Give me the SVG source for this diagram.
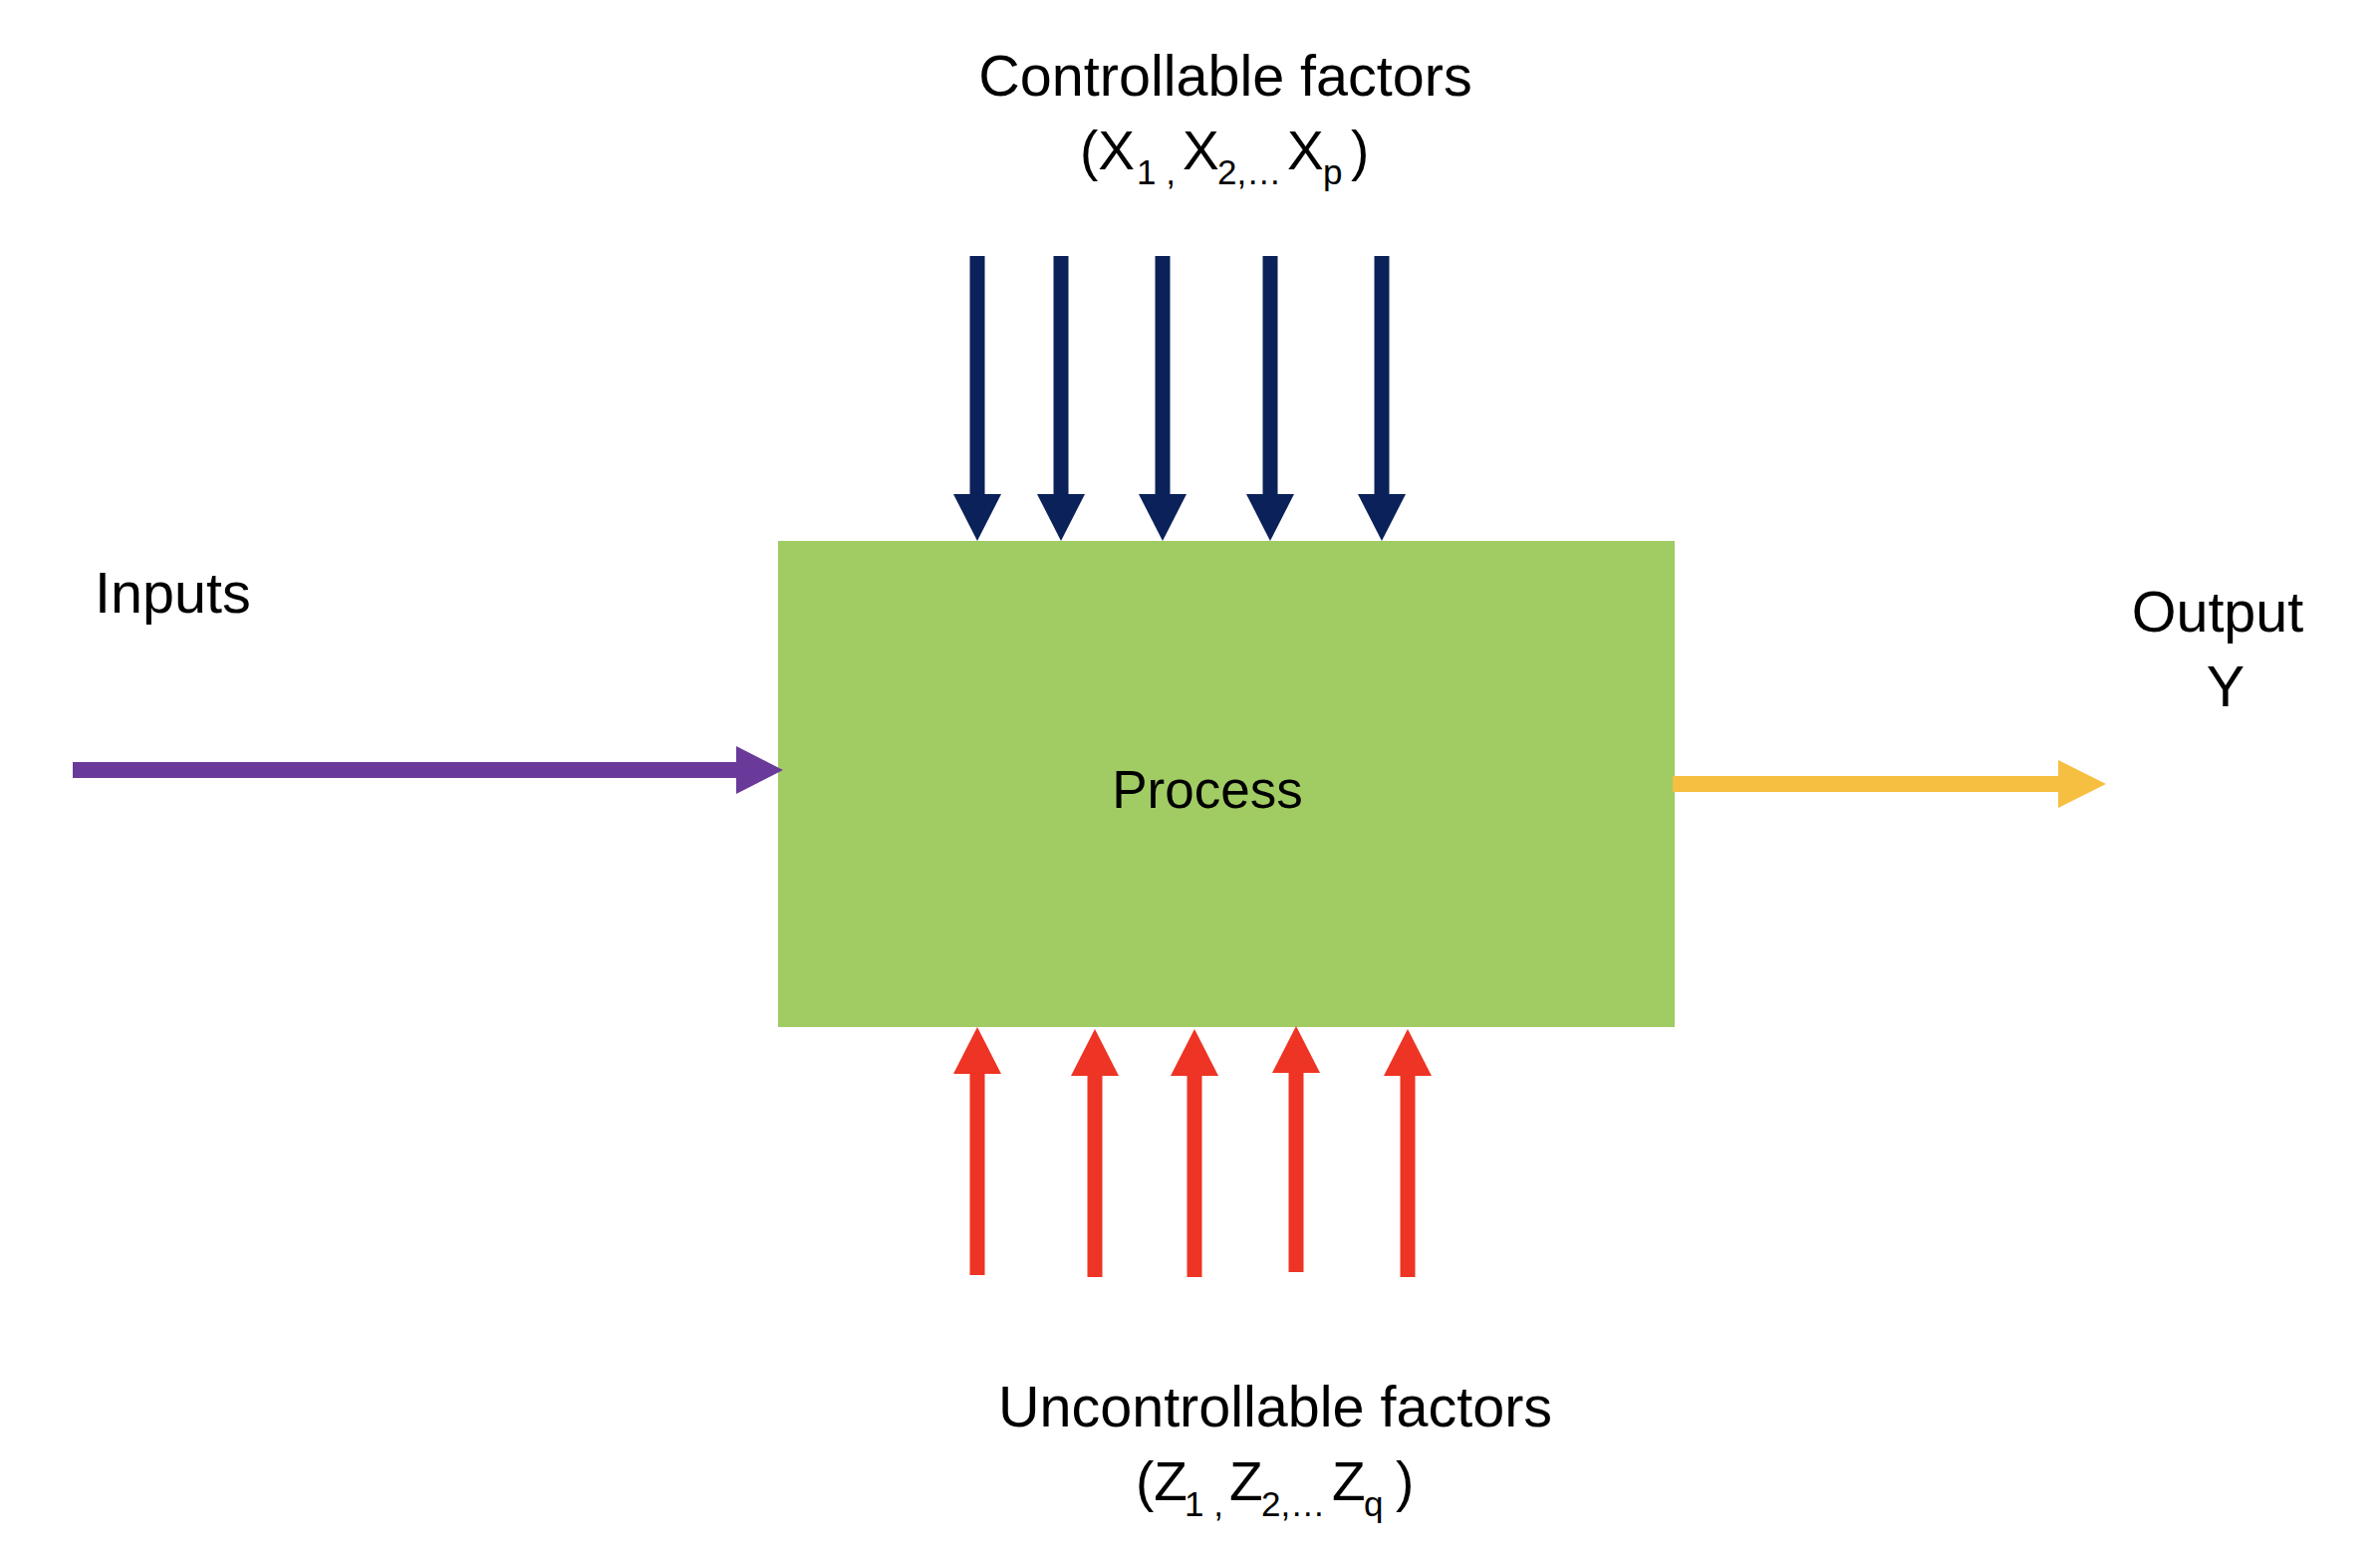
<svg xmlns="http://www.w3.org/2000/svg" width="2389" height="1560" viewBox="0 0 2389 1560">
<style>
.t{font-family:"Liberation Sans",Arial,sans-serif;fill:#000}
.lbl{font-size:57.5px}
.m{font-size:55px}
.s{font-size:35px}
.nv{stroke:#0B2159;stroke-width:15;fill:none}
.rd{stroke:#EE3424;stroke-width:15;fill:none}
.pp{stroke:#6A3A9B;stroke-width:16;fill:none}
.yl{stroke:#F6BF41;stroke-width:16;fill:none}
</style>
<defs>
<marker id="hNavy" markerUnits="userSpaceOnUse" viewBox="0 0 47 48" markerWidth="47" markerHeight="48" refX="0" refY="24" orient="auto"><path d="M0,0 L47,24 L0,48 Z" fill="#0B2159"/></marker>
<marker id="hRed" markerUnits="userSpaceOnUse" viewBox="0 0 47 48" markerWidth="47" markerHeight="48" refX="0" refY="24" orient="auto"><path d="M0,0 L47,24 L0,48 Z" fill="#EE3424"/></marker>
<marker id="hPurple" markerUnits="userSpaceOnUse" viewBox="0 0 47 48" markerWidth="47" markerHeight="48" refX="0" refY="24" orient="auto"><path d="M0,0 L47,24 L0,48 Z" fill="#6A3A9B"/></marker>
<marker id="hYellow" markerUnits="userSpaceOnUse" viewBox="0 0 48 48" markerWidth="48" markerHeight="48" refX="0" refY="24" orient="auto"><path d="M0,0 L48,24 L0,48 Z" fill="#F6BF41"/></marker>
</defs>
<rect width="2389" height="1560" fill="#fff"/>
<g id="process">
<rect x="781" y="543" width="900" height="488" fill="#A1CC63"/>
<text class="t" x="1212" y="811" font-size="53" text-anchor="middle">Process</text>
</g>
<g id="inputs-label"><text class="t lbl" x="95" y="615">Inputs</text></g>
<g id="output-label">
<text class="t lbl" x="2226" y="634" text-anchor="middle">Output</text>
<text class="t lbl" x="2234" y="709" text-anchor="middle">Y</text>
</g>
<g id="controllable-label">
<text class="t lbl" x="1230" y="96" text-anchor="middle">Controllable factors</text>
<text class="t"><tspan class="m" x="1084" y="170">(X</tspan><tspan class="s" x="1141" y="185">1 ,</tspan><tspan class="m" x="1187" y="170">X</tspan><tspan class="s" x="1222" y="185">2,…</tspan><tspan class="m" x="1292" y="170">X</tspan><tspan class="s" x="1328" y="185">p</tspan><tspan class="m" x="1356" y="170">)</tspan></text>
</g>
<g id="uncontrollable-label">
<text class="t lbl" x="1280" y="1432" text-anchor="middle">Uncontrollable factors</text>
<text class="t"><tspan class="m" x="1140" y="1506">(Z</tspan><tspan class="s" x="1189" y="1522">1 ,</tspan><tspan class="m" x="1234" y="1506">Z</tspan><tspan class="s" x="1266" y="1522">2,…</tspan><tspan class="m" x="1337" y="1506">Z</tspan><tspan class="s" x="1369" y="1522">q</tspan><tspan class="m" x="1401" y="1506">)</tspan></text>
</g>
<g id="connectors">
<line class="pp" x1="73" y1="773" x2="739" y2="773" marker-end="url(#hPurple)"/>
<line class="yl" x1="1679" y1="787" x2="2066" y2="787" marker-end="url(#hYellow)"/>
<line class="nv" x1="981" y1="257" x2="981" y2="496" marker-end="url(#hNavy)"/>
<line class="nv" x1="1065" y1="257" x2="1065" y2="496" marker-end="url(#hNavy)"/>
<line class="nv" x1="1167" y1="257" x2="1167" y2="496" marker-end="url(#hNavy)"/>
<line class="nv" x1="1275" y1="257" x2="1275" y2="496" marker-end="url(#hNavy)"/>
<line class="nv" x1="1387" y1="257" x2="1387" y2="496" marker-end="url(#hNavy)"/>
<line class="rd" x1="981" y1="1280" x2="981" y2="1078" marker-end="url(#hRed)"/>
<line class="rd" x1="1099" y1="1282" x2="1099" y2="1080" marker-end="url(#hRed)"/>
<line class="rd" x1="1199" y1="1282" x2="1199" y2="1080" marker-end="url(#hRed)"/>
<line class="rd" x1="1301" y1="1277" x2="1301" y2="1077" marker-end="url(#hRed)"/>
<line class="rd" x1="1413" y1="1282" x2="1413" y2="1080" marker-end="url(#hRed)"/>
</g>
</svg>
